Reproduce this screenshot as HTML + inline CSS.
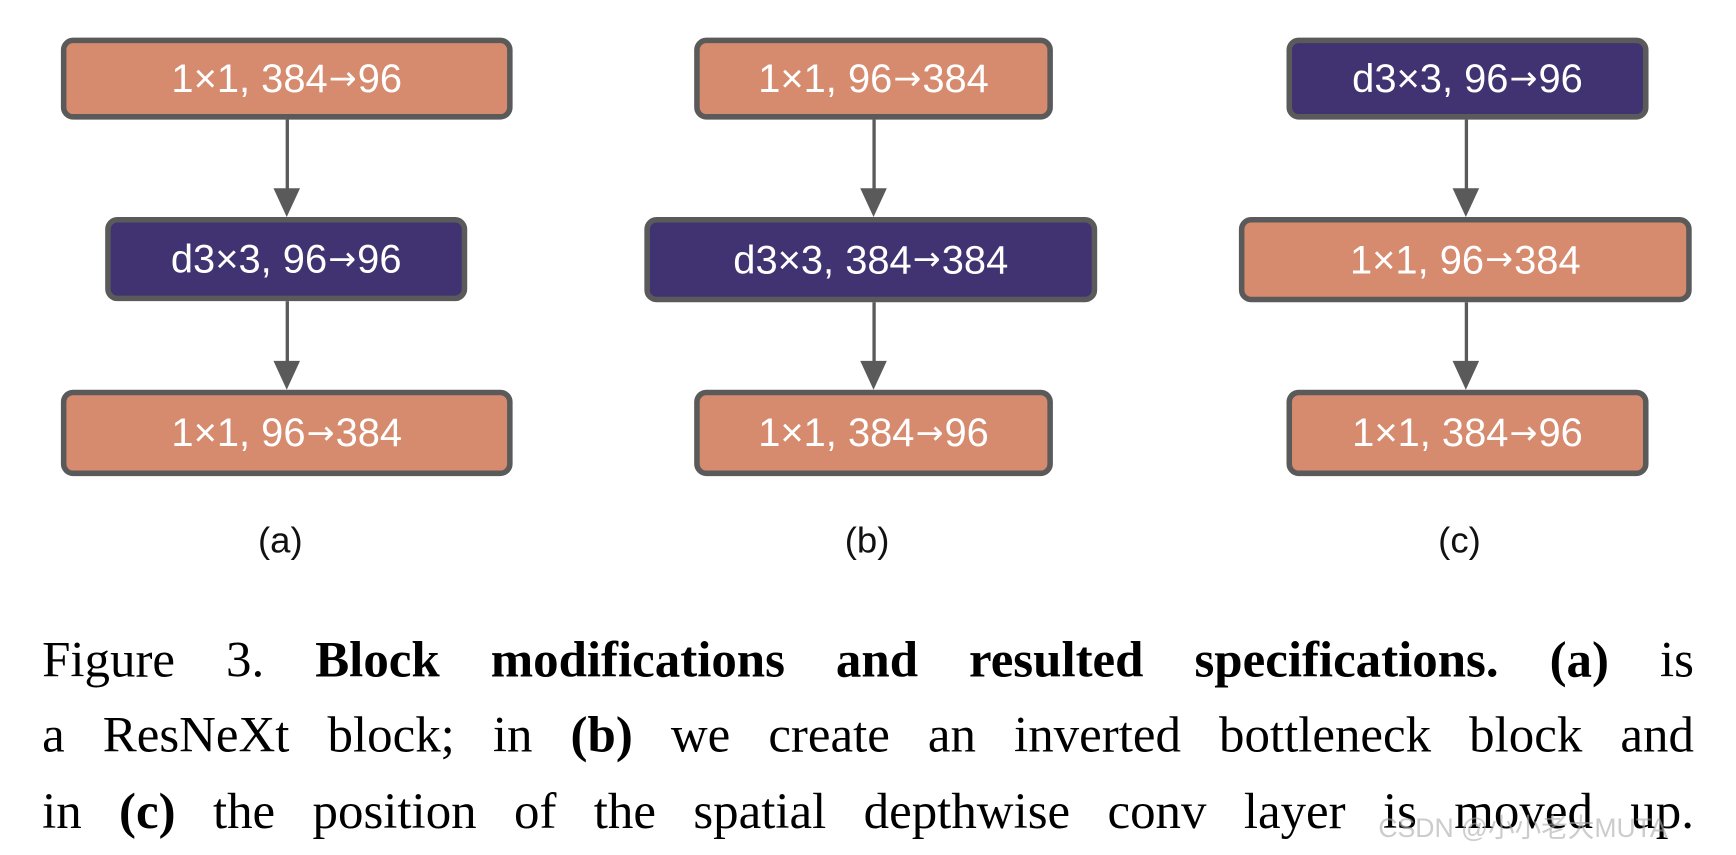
<!DOCTYPE html>
<html><head><meta charset="utf-8"><style>
html,body{margin:0;padding:0;background:#fff;width:1736px;height:854px;overflow:hidden}
#s{position:absolute;left:0;top:0;width:1568px;height:772px;transform:scale(1.10714);transform-origin:0 0}
.b{position:absolute;box-sizing:border-box;border:5px solid #5a5a5a;border-radius:11px;color:#fff;font-family:"Liberation Sans",sans-serif;font-size:36px;display:flex;align-items:center;justify-content:center}
.b i{font-style:normal;font-family:"DejaVu Sans",sans-serif;font-size:30px;margin:0 1px}
.o{background:#d68b6e}.p{background:#413371}
.l{position:absolute;width:3px;background:#5a5a5a}
.h{position:absolute;width:0;height:0;border-left:12px solid transparent;border-right:12px solid transparent;border-top:26px solid #5a5a5a}
.c{position:absolute;font-family:"Liberation Sans",sans-serif;font-size:33px;color:#111}
.cl{position:absolute;left:38px;width:1492px;font-family:"Liberation Serif",serif;font-size:46px;line-height:68px;text-align:justify;text-align-last:justify;color:#000;white-space:nowrap}
#wm{position:absolute;left:1245px;top:728px;font-family:"Liberation Sans","Noto Sans CJK SC",sans-serif;font-size:24px;color:rgba(170,170,170,.6)}
</style></head><body><div id="s">
<div class="b o" style="left:55px;top:34px;width:408px;height:74px">1×1, 384<i>→</i>96</div>
<div class="l" style="left:258px;top:108px;height:64px"></div><div class="h" style="left:247px;top:170px"></div>
<div class="b p" style="left:95px;top:196px;width:327px;height:76px">d3×3, 96<i>→</i>96</div>
<div class="l" style="left:258px;top:272px;height:56px"></div><div class="h" style="left:247px;top:326px"></div>
<div class="b o" style="left:55px;top:352px;width:408px;height:78px">1×1, 96<i>→</i>384</div>
<div class="c" style="left:233px;top:469px">(a)</div>
<div class="b o" style="left:627px;top:34px;width:324px;height:74px">1×1, 96<i>→</i>384</div>
<div class="l" style="left:788px;top:108px;height:64px"></div><div class="h" style="left:777px;top:170px"></div>
<div class="b p" style="left:582px;top:196px;width:409px;height:77px">d3×3, 384<i>→</i>384</div>
<div class="l" style="left:788px;top:273px;height:55px"></div><div class="h" style="left:777px;top:326px"></div>
<div class="b o" style="left:627px;top:352px;width:324px;height:78px">1×1, 384<i>→</i>96</div>
<div class="c" style="left:763px;top:469px">(b)</div>
<div class="b p" style="left:1162px;top:34px;width:327px;height:74px">d3×3, 96<i>→</i>96</div>
<div class="l" style="left:1323px;top:108px;height:64px"></div><div class="h" style="left:1312px;top:170px"></div>
<div class="b o" style="left:1119px;top:196px;width:409px;height:77px">1×1, 96<i>→</i>384</div>
<div class="l" style="left:1323px;top:273px;height:55px"></div><div class="h" style="left:1312px;top:326px"></div>
<div class="b o" style="left:1162px;top:352px;width:327px;height:78px">1×1, 384<i>→</i>96</div>
<div class="c" style="left:1299px;top:469px">(c)</div>
<div class="cl" style="top:562px">Figure 3. <b>Block modifications and resulted specifications.</b> <b>(a)</b> is</div>
<div class="cl" style="top:630px">a ResNeXt block; in <b>(b)</b> we create an inverted bottleneck block and</div>
<div class="cl" style="top:699px">in <b>(c)</b> the position of the spatial depthwise conv layer is moved up.</div>
<div id="wm">CSDN @小小老大MUTA</div>
</div></body></html>
